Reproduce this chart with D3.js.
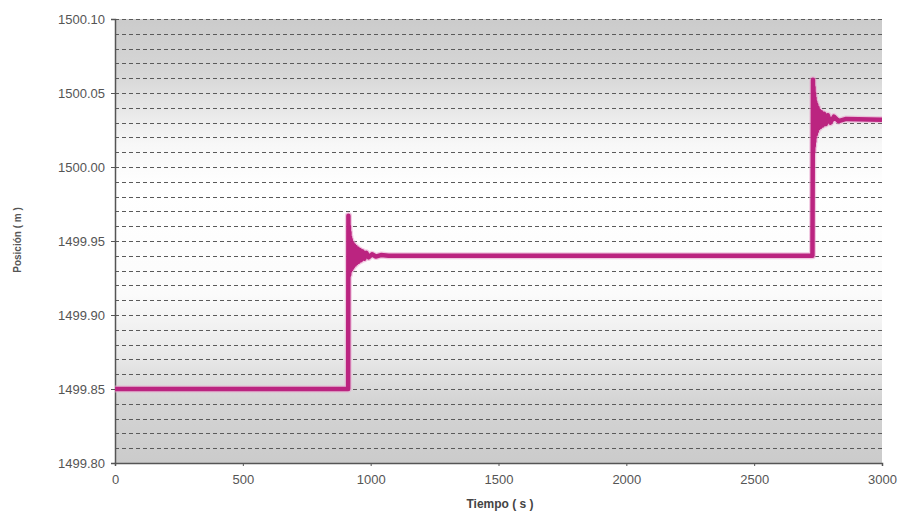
<!DOCTYPE html>
<html><head><meta charset="utf-8">
<script src="https://cdn.jsdelivr.net/npm/d3@7"></script>
<style>body{margin:0;background:#fff;}svg{display:block;}</style>
</head><body>
<svg id="c" width="901" height="515"></svg>
<script>
// Data
const xTicks = [0, 500, 1000, 1500, 2000, 2500, 3000];
const yTicks = [1499.80, 1499.85, 1499.90, 1499.95, 1500.00, 1500.05, 1500.10];
const timeS = [0, 912, 913, 914, 915, 916, 917, 918, 919, 920, 922, 924, 926, 928, 930, 932, 935, 938, 941, 944, 948, 952, 957, 962, 968, 975, 983, 992, 1005, 1020, 1040, 1070, 2728,
  2730, 2731, 2732, 2733, 2734, 2735, 2736, 2737, 2739, 2741, 2743, 2745, 2748, 2751, 2754, 2758, 2762, 2767, 2773, 2780, 2788, 2798, 2812, 2830, 2860, 3000];
const positionM = [1499.85, 1499.85, 1499.967, 1499.926, 1499.960, 1499.927, 1499.956, 1499.929, 1499.953, 1499.930, 1499.951, 1499.931, 1499.949, 1499.932, 1499.948, 1499.933, 1499.947, 1499.934, 1499.946, 1499.935, 1499.945, 1499.936, 1499.944, 1499.937, 1499.943, 1499.938, 1499.942, 1499.939, 1499.941, 1499.9395, 1499.9405, 1499.940, 1499.940,
  1500.059, 1500.010, 1500.054, 1500.014, 1500.050, 1500.017, 1500.047, 1500.020, 1500.044, 1500.022, 1500.042, 1500.024, 1500.040, 1500.026, 1500.038, 1500.027, 1500.037, 1500.028, 1500.036, 1500.029, 1500.035, 1500.030, 1500.034, 1500.031, 1500.0325, 1500.032];
const xTitle = "Tiempo ( s )";
const yTitle = "Posición ( m )";

const svg = d3.select("#c");
const L = 115, R = 882, T = 19, B = 463;
const x = d3.scaleLinear().domain([0, 3000]).range([L, R]);
const y = d3.scaleLinear().domain([1499.80, 1500.10]).range([B, T]);

// background gradient (gray top/bottom, white middle)
const defs = svg.append("defs");
const g = defs.append("linearGradient").attr("id", "bg").attr("x1", 0).attr("y1", 0).attr("x2", 0).attr("y2", 1);
[[0, "#cbcbcb"], [0.12, "#d6d6d6"], [0.28, "#f7f7f7"], [0.38, "#ffffff"], [0.62, "#fbfbfb"], [0.76, "#e8e8e8"], [0.86, "#d4d4d4"], [1, "#cbcbcb"]]
  .forEach(([o, c]) => g.append("stop").attr("offset", o).attr("stop-color", c));
svg.append("rect").attr("x", L).attr("y", T).attr("width", R - L).attr("height", B - T).attr("fill", "url(#bg)");

// minor gridlines every 0.01
const grid = d3.range(0, 31).map(i => 1499.80 + i * 0.01);
svg.append("g").selectAll("line").data(grid).join("line")
  .attr("x1", L).attr("x2", R)
  .attr("y1", d => Math.round(y(d)) + 0.5).attr("y2", d => Math.round(y(d)) + 0.5)
  .attr("stroke", "#5a5a5a").attr("stroke-width", 1).attr("stroke-dasharray", "4,3");

// axes
const ya = svg.append("g").attr("transform", `translate(${L},0)`)
  .call(d3.axisLeft(y).tickValues(yTicks).tickFormat(d3.format(".2f")).tickSize(4).tickPadding(6));
const xa = svg.append("g").attr("transform", `translate(0,${B})`)
  .call(d3.axisBottom(x).tickValues(xTicks).tickFormat(d3.format("d")).tickSize(3).tickPadding(9));
[ya, xa].forEach(a => {
  a.select(".domain").attr("stroke", "#555").attr("stroke-width", 1.5);
  a.selectAll(".tick line").attr("stroke", "#555");
  a.selectAll("text").attr("fill", "#555").attr("font-family", "Liberation Sans, Arial, sans-serif").attr("font-size", 13);
});

// line
const line = d3.line().x((d, i) => x(timeS[i])).y(d => y(d));
svg.append("path").datum(positionM).attr("d", line)
  .attr("fill", "none").attr("stroke", "#e7a6cf").attr("stroke-width", 7).attr("stroke-linejoin", "round").attr("opacity", 0.6);
svg.append("path").datum(positionM).attr("d", line)
  .attr("fill", "none").attr("stroke", "#bb2480").attr("stroke-width", 4.5).attr("stroke-linejoin", "round");

// titles
svg.append("text").attr("x", 500).attr("y", 508).attr("text-anchor", "middle")
  .attr("font-family", "Liberation Sans, Arial, sans-serif").attr("font-weight", "bold").attr("font-size", 12).attr("fill", "#444")
  .text(xTitle);
svg.append("text").attr("transform", "translate(21,240) rotate(-90)").attr("text-anchor", "middle")
  .attr("font-family", "Liberation Sans, Arial, sans-serif").attr("font-weight", "bold").attr("font-size", 10).attr("fill", "#555")
  .text(yTitle);
</script>
</body></html>
